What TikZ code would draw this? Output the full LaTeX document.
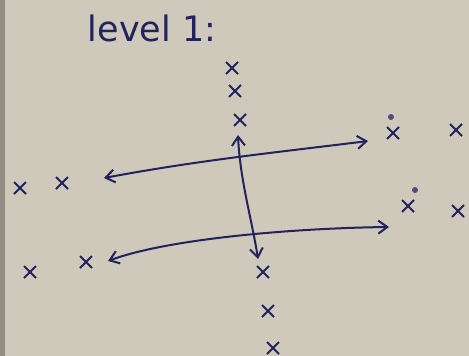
\documentclass[tikz,border=0pt]{standalone}
\usepackage{fontspec}
\setsansfont{DejaVu Sans}
\usetikzlibrary{shapes.misc,arrows.meta}
\definecolor{paper}{RGB}{206,201,187}
\definecolor{ink}{RGB}{34,34,92}
\tikzset{
  xmark/.style={cross out,draw=ink,line width=2pt,minimum size=10pt,inner sep=0pt},
  dotmark/.style={circle,fill=ink!80,inner sep=0pt,minimum size=6pt},
  pen/.style={ink,line width=2pt,{Straight Barb[length=9pt,width=13pt]}-{Straight Barb[length=9pt,width=13pt]}}
}
\begin{document}
\begin{tikzpicture}[x=1pt,y=-1pt]
  \useasboundingbox (0,0) rectangle (469,356);
  \fill[paper] (0,0) rectangle (469,356);
  \fill[paper!70!black] (0,0) rectangle (5,356);
  \node[text=ink,font=\sffamily\fontsize{35}{40}\selectfont] (title) at (152,28) {level 1:};
  % vertical column
  \node[xmark] (t1) at (232,68) {};
  \node[xmark] (t2) at (235,91) {};
  \node[xmark] (t3) at (240,120) {};
  \node[xmark] (b1) at (263,272) {};
  \node[xmark] (b2) at (268,311) {};
  \node[xmark] (b3) at (273,348) {};
  % left side
  \node[xmark] (l1) at (20,188) {};
  \node[xmark] (l2) at (62,183) {};
  \node[xmark] (l3) at (30,272) {};
  \node[xmark] (l4) at (86,262) {};
  % right side
  \node[xmark] (r1) at (393,133) {};
  \node[dotmark] (d1) at (391,117) {};
  \node[xmark] (r2) at (456,130) {};
  \node[xmark] (r3) at (408,206) {};
  \node[dotmark] (d2) at (415,190) {};
  \node[xmark] (r4) at (458,211) {};
  % arrow ends
  \coordinate (ua) at (104,178);
  \coordinate (ub) at (368,141);
  \coordinate (la) at (108,261);
  \coordinate (lb) at (389,227);
  \coordinate (va) at (238,135);
  \coordinate (vb) at (258,259);
  \draw[pen] (ua) .. controls (200,160) and (280,152) .. (ub);
  \draw[pen] (la) .. controls (170,238) and (300,228) .. (lb);
  \draw[pen] (va) .. controls (240,180) and (252,220) .. (vb);
\end{tikzpicture}
\end{document}
